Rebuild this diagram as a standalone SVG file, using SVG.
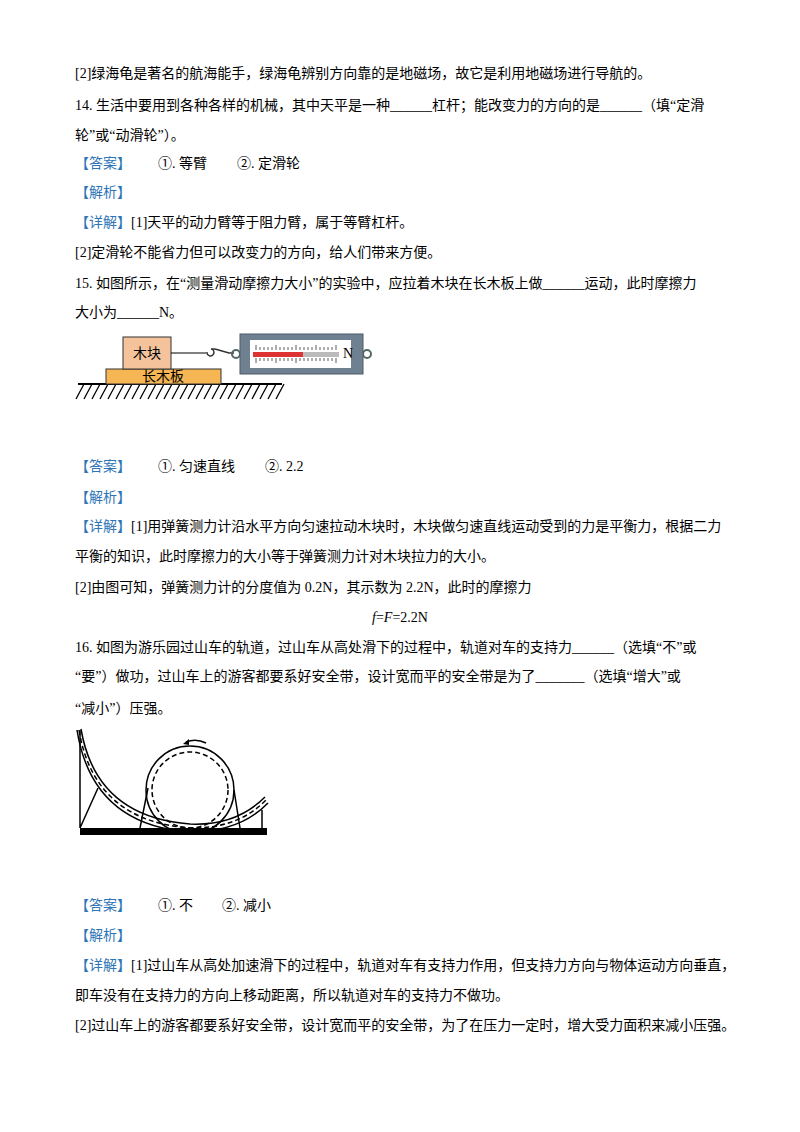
<svg xmlns="http://www.w3.org/2000/svg" width="800" height="1132" viewBox="0 0 800 1132">
<style>
text{font-family:"Liberation Serif","Noto Sans CJK SC",serif;font-size:14px;fill:#000}
.b{fill:#2e75b6}
.ln{stroke:#000;stroke-width:1.5;fill:none}
</style>
<rect width="800" height="1132" fill="#fff"/>
<g id="text">
<text x="75" y="78">[2]绿海龟是著名的航海能手，绿海龟辨别方向靠的是地磁场，故它是利用地磁场进行导航的。</text>
<text x="75" y="110">14. 生活中要用到各种各样的机械，其中天平是一种______杠杆；能改变力的方向的是______（填“定滑</text>
<text x="75" y="140">轮”或“动滑轮”）。</text>
<text x="75" y="168"><tspan class="b">【答案】</tspan><tspan x="158">①. 等臂</tspan><tspan x="237">②. 定滑轮</tspan></text>
<text x="75" y="197" class="b">【解析】</text>
<text x="75" y="227"><tspan class="b">【详解】</tspan>[1]天平的动力臂等于阻力臂，属于等臂杠杆。</text>
<text x="75" y="257">[2]定滑轮不能省力但可以改变力的方向，给人们带来方便。</text>
<text x="75" y="288">15. 如图所示，在“测量滑动摩擦力大小”的实验中，应拉着木块在长木板上做______运动，此时摩擦力</text>
<text x="75" y="317">大小为______N。</text>
<text x="75" y="471"><tspan class="b">【答案】</tspan><tspan x="158">①. 匀速直线</tspan><tspan x="265">②. 2.2</tspan></text>
<text x="75" y="502" class="b">【解析】</text>
<text x="75" y="531"><tspan class="b">【详解】</tspan>[1]用弹簧测力计沿水平方向匀速拉动木块时，木块做匀速直线运动受到的力是平衡力，根据二力</text>
<text x="75" y="561">平衡的知识，此时摩擦力的大小等于弹簧测力计对木块拉力的大小。</text>
<text x="75" y="592">[2]由图可知，弹簧测力计的分度值为 0.2N，其示数为 2.2N，此时的摩擦力</text>
<text x="400" y="622" text-anchor="middle"><tspan font-style="italic">f</tspan>=<tspan font-style="italic">F</tspan>=2.2N</text>
<text x="75" y="652">16. 如图为游乐园过山车的轨道，过山车从高处滑下的过程中，轨道对车的支持力______（选填“不”或</text>
<text x="75" y="681">“要”）做功，过山车上的游客都要系好安全带，设计宽而平的安全带是为了_______（选填“增大”或</text>
<text x="75" y="713">“减小”）压强。</text>
<text x="75" y="910"><tspan class="b">【答案】</tspan><tspan x="158">①. 不</tspan><tspan x="222">②. 减小</tspan></text>
<text x="75" y="940" class="b">【解析】</text>
<text x="75" y="970"><tspan class="b">【详解】</tspan>[1]过山车从高处加速滑下的过程中，轨道对车有支持力作用，但支持力方向与物体运动方向垂直，</text>
<text x="75" y="1000">即车没有在支持力的方向上移动距离，所以轨道对车的支持力不做功。</text>
<text x="75" y="1030">[2]过山车上的游客都要系好安全带，设计宽而平的安全带，为了在压力一定时，增大受力面积来减小压强。</text>
</g>
<g id="fig15">
<line x1="78" y1="384" x2="282" y2="384" stroke="#000" stroke-width="2"/>
<path d="M84 384l-8 15M92 384l-8 15M100 384l-8 15M108 384l-8 15M116 384l-8 15M124 384l-8 15M132 384l-8 15M140 384l-8 15M148 384l-8 15M156 384l-8 15M164 384l-8 15M172 384l-8 15M180 384l-8 15M188 384l-8 15M196 384l-8 15M204 384l-8 15M212 384l-8 15M220 384l-8 15M228 384l-8 15M236 384l-8 15M244 384l-8 15M252 384l-8 15M260 384l-8 15M268 384l-8 15M276 384l-8 15M284 384l-8 15" stroke="#000" stroke-width="1.3"/>
<rect x="106" y="369" width="115" height="15" fill="#f6b654" stroke="#333"/>
<text x="163" y="381" text-anchor="middle" font-size="12">长木板</text>
<rect x="123" y="337" width="48" height="32" fill="#f4c39b" stroke="#333"/>
<text x="147" y="358" text-anchor="middle" font-size="12">木块</text>
<line x1="171" y1="353" x2="206" y2="353" stroke="#000"/>
<path d="M207 352 a3.5 3.5 0 1 0 4 -3 h4 M215 349 l14 4 h5" stroke="#333" stroke-width="1.5" fill="none"/>
<circle cx="236" cy="354" r="4" fill="none" stroke="#566" stroke-width="2"/>
<circle cx="367" cy="354" r="4" fill="none" stroke="#566" stroke-width="2"/>
<rect x="240" y="334" width="123" height="40" fill="#6f8190" stroke="#4a5a66"/>
<rect x="250" y="340" width="101" height="28" fill="#fff"/>
<path d="M256 345v5M260 347v3M264 347v3M268 347v3M272 347v3M276 345v5M280 347v3M284 347v3M288 347v3M292 347v3M296 345v5M300 347v3M304 347v3M308 347v3M312 347v3M316 345v5M320 347v3M324 347v3M328 347v3M332 347v3M336 345v5 M256 358v5M260 358v3M264 358v3M268 358v3M272 358v3M276 358v5M280 358v3M284 358v3M288 358v3M292 358v3M296 358v5M300 358v3M304 358v3M308 358v3M312 358v3M316 358v3M320 358v3M324 358v3M328 358v3M332 358v3M336 358v5" stroke="#333" stroke-width="0.8"/>
<rect x="253" y="352" width="86" height="5" fill="#bbb"/>
<rect x="253" y="352" width="50" height="5" fill="#d33"/>
<text x="343" y="358" font-size="8" font-family="Liberation Sans,sans-serif">N</text>
</g>
<g id="fig16">
<rect x="80" y="828" width="187" height="7" fill="#000"/>
<path class="ln" d="M80 730V828M80 828L98 788M262 810V828M148 788L140 828M234 790L240 828"/>
<circle cx="190" cy="790" r="44" class="ln"/>
<circle cx="190" cy="790" r="38" class="ln" stroke-dasharray="5 3"/>
<path class="ln" d="M77 730 Q 92 825 190 832 Q 240 832 268 803"/>
<path class="ln" d="M81 729 Q 96 817 190 824 Q 236 826 265 797"/>
<path class="ln" d="M79 730 Q 94 821 190 828 Q 238 829 266 800" stroke-dasharray="5 3" stroke-width="1.2"/>
<path class="ln" d="M186 742 Q 196 738 206 743"/>
<path d="M183 744 l6 -5 l0 6z" fill="#000"/>
</g>
</svg>
